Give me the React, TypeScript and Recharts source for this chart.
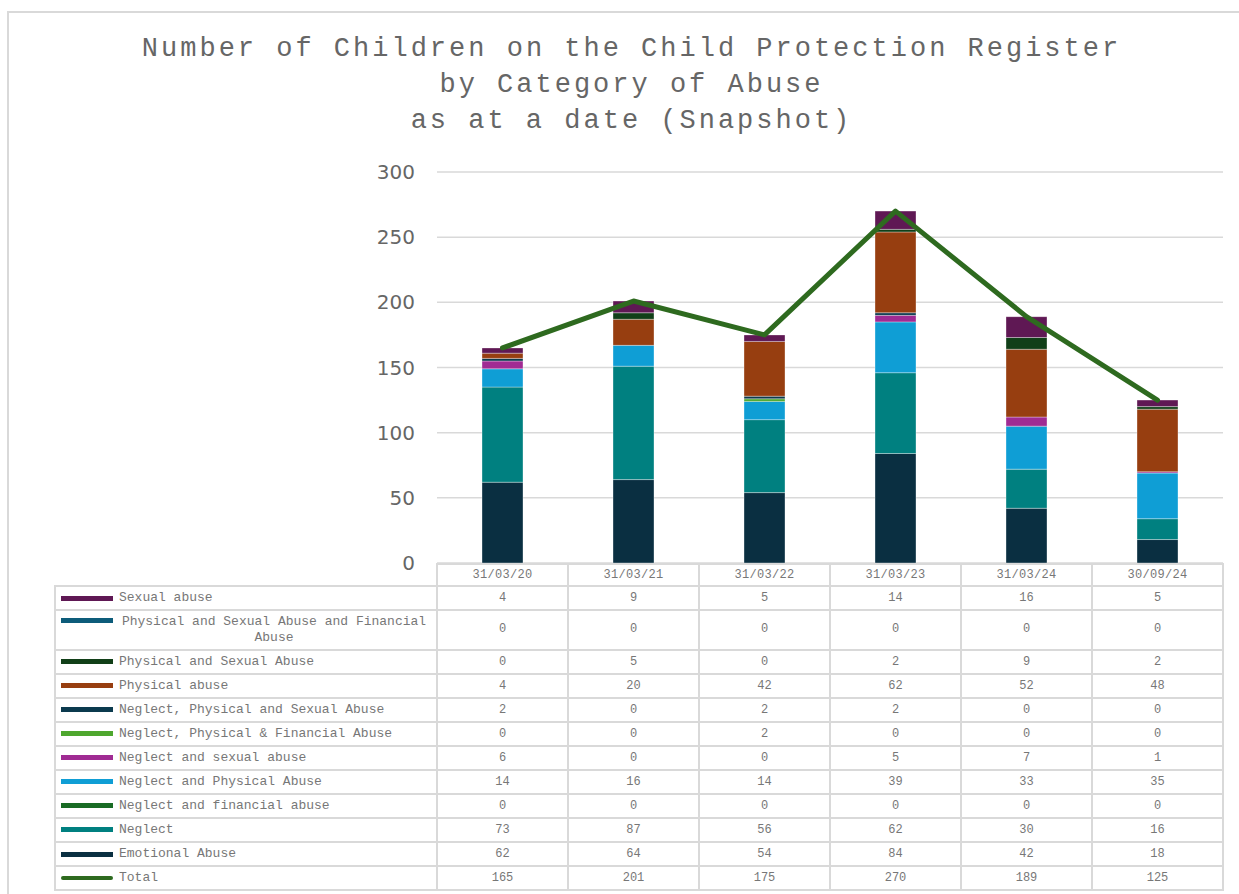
import { ComposedChart, Bar, Line, XAxis, YAxis, CartesianGrid } from "recharts";

const categories = ["31/03/20", "31/03/21", "31/03/22", "31/03/23", "31/03/24", "30/09/24"];

const sexualAbuse = [4, 9, 5, 14, 16, 5];
const physicalSexualFinancial = [0, 0, 0, 0, 0, 0];
const physicalSexual = [0, 5, 0, 2, 9, 2];
const physicalAbuse = [4, 20, 42, 62, 52, 48];
const neglectPhysicalSexual = [2, 0, 2, 2, 0, 0];
const neglectPhysicalFinancial = [0, 0, 2, 0, 0, 0];
const neglectSexual = [6, 0, 0, 5, 7, 1];
const neglectPhysical = [14, 16, 14, 39, 33, 35];
const neglectFinancial = [0, 0, 0, 0, 0, 0];
const neglect = [73, 87, 56, 62, 30, 16];
const emotionalAbuse = [62, 64, 54, 84, 42, 18];
const total = [165, 201, 175, 270, 189, 125];

const yTicks = [0, 50, 100, 150, 200, 250, 300];

// table order, top to bottom (stack is drawn in reverse)
const series = [
  { key: "sexual", name: "Sexual abuse", color: "#5F1854", values: sexualAbuse },
  { key: "psf", name: "Physical and Sexual Abuse and Financial Abuse", color: "#0D5C7A", values: physicalSexualFinancial },
  { key: "ps", name: "Physical and Sexual Abuse", color: "#113F18", values: physicalSexual },
  { key: "phys", name: "Physical abuse", color: "#973E10", values: physicalAbuse },
  { key: "nps", name: "Neglect, Physical and Sexual Abuse", color: "#0B3A4E", values: neglectPhysicalSexual },
  { key: "npf", name: "Neglect, Physical & Financial Abuse", color: "#4EA72E", values: neglectPhysicalFinancial },
  { key: "ns", name: "Neglect and sexual abuse", color: "#A02B93", values: neglectSexual },
  { key: "np", name: "Neglect and Physical Abuse", color: "#0F9ED5", values: neglectPhysical },
  { key: "nf", name: "Neglect and financial abuse", color: "#196B24", values: neglectFinancial },
  { key: "neglect", name: "Neglect", color: "#008080", values: neglect },
  { key: "emotional", name: "Emotional Abuse", color: "#0A2F41", values: emotionalAbuse },
];

const totalColor = "#2E6A1F";

const data = categories.map((c, i) => {
  const row: Record<string, string | number> = { category: c, total: total[i] };
  series.forEach((s) => (row[s.key] = s.values[i]));
  return row;
});

const W = 1239;
const H = 894;
const plotLeft = 437;
const plotRight = 1223;
const plotTop = 172;
const plotBottom = 563;
const yAxisW = 60;
const colW = (plotRight - plotLeft) / categories.length;
const labelLeft = 54;
const headerBottom = 585;
const rowHeights = [24, 39.5, 24, 24, 24, 24, 24, 24, 24, 24.5, 24, 24];
const grid = "#D9D9D9";
const textGrey = "#595959";
const tableGrey = "#777777";
const mono = "'Liberation Mono', 'DejaVu Sans Mono', monospace";

export default function App() {
  const rowTops: number[] = [];
  let acc = headerBottom;
  rowHeights.forEach((h) => {
    rowTops.push(acc);
    acc += h;
  });
  const tableBottom = acc;

  const rows = [
    ...series.map((s) => ({ name: s.name, color: s.color, values: s.values, isLine: false })),
    { name: "Total", color: totalColor, values: total, isLine: true },
  ];

  return (
    <div style={{ position: "absolute", left: 0, top: 0, width: W, height: H, background: "#fff", overflow: "hidden" }}>
      <div style={{ position: "absolute", left: 7, top: 11, width: 1.5, height: H, background: grid }} />
      <div style={{ position: "absolute", left: 7, top: 11, width: W, height: 1.5, background: grid }} />
      <div
        style={{
          position: "absolute",
          left: 12,
          width: W,
          top: 31,
          textAlign: "center",
          fontFamily: mono,
          fontSize: 27,
          letterSpacing: 3,
          lineHeight: "36px",
          color: "#666666",
        }}
      >
        Number of Children on the Child Protection Register
        <br />
        by Category of Abuse
        <br />
        as at a date (Snapshot)
      </div>

      <div style={{ position: "absolute", left: 0, top: 0 }}>
        <ComposedChart
          width={W}
          height={H}
          data={data}
          margin={{ top: plotTop, bottom: H - plotBottom, left: plotLeft - yAxisW, right: W - plotRight }}
          barCategoryGap={0}
        >
          <CartesianGrid vertical={false} stroke={grid} strokeWidth={1.5} />
          <XAxis dataKey="category" hide />
          <YAxis
            width={yAxisW}
            domain={[0, 300]}
            ticks={yTicks}
            interval={0}
            axisLine={false}
            tickLine={false}
            tickMargin={16}
            tick={{ fill: "#666666", fontSize: 20, fontFamily: "'DejaVu Sans', sans-serif" }}
          />
          {[...series].reverse().map((s) => (
            <Bar
              key={s.key}
              dataKey={s.key}
              name={s.name}
              stackId="a"
              fill={s.color}
              stroke="rgba(255,255,255,0.45)"
              strokeWidth={0.75}
              barSize={41}
              isAnimationActive={false}
            />
          ))}
          <Line
            dataKey="total"
            name="Total"
            stroke={totalColor}
            strokeWidth={5}
            strokeLinecap="round"
            strokeLinejoin="round"
            dot={false}
            activeDot={false}
            isAnimationActive={false}
          />
        </ComposedChart>
      </div>

      {/* data table grid */}
      <div style={{ position: "absolute", left: plotLeft, top: plotBottom, width: plotRight - plotLeft, height: 2, background: grid }} />
      {rowTops.map((t, i) => (
        <div key={"h" + i} style={{ position: "absolute", left: labelLeft, top: t, width: plotRight - labelLeft, height: 2, background: grid }} />
      ))}
      <div style={{ position: "absolute", left: labelLeft, top: tableBottom, width: plotRight - labelLeft, height: 2, background: grid }} />
      <div style={{ position: "absolute", left: labelLeft, top: headerBottom, width: 2, height: tableBottom - headerBottom + 2, background: grid }} />
      {categories.map((_, i) => (
        <div key={"v" + i} style={{ position: "absolute", left: plotLeft + i * colW - 1, top: plotBottom, width: 2, height: tableBottom - plotBottom + 2, background: grid }} />
      ))}
      <div style={{ position: "absolute", left: plotRight - 1, top: plotBottom, width: 2, height: tableBottom - plotBottom + 2, background: grid }} />

      {/* header */}
      {categories.map((c, i) => (
        <div
          key={"c" + i}
          style={{
            position: "absolute",
            left: plotLeft + i * colW,
            top: plotBottom + 2,
            width: colW,
            height: headerBottom - plotBottom - 2,
            lineHeight: `${headerBottom - plotBottom - 2}px`,
            textAlign: "center",
            fontFamily: mono,
            fontSize: 12,
            letterSpacing: 0.3,
            color: tableGrey,
          }}
        >
          {c}
        </div>
      ))}

      {/* rows */}
      {rows.map((r, ri) => {
        const top = rowTops[ri] + 2;
        const h = rowHeights[ri] - 2;
        const wrap = r.name.length > 40;
        return (
          <div key={"r" + ri}>
            <div
              style={{
                position: "absolute",
                left: 61,
                top: top + h / 2 - (wrap ? 9 : 0) - 2.5,
                width: 52,
                height: r.isLine ? 4 : 5,
                borderRadius: r.isLine ? 2 : 0,
                background: r.color,
              }}
            />
            <div
              style={{
                position: "absolute",
                left: wrap ? 115 : 119,
                top: top,
                width: 318,
                height: h,
                display: "flex",
                alignItems: "center",
                justifyContent: wrap ? "center" : "flex-start",
                textAlign: wrap ? "center" : "left",
                fontFamily: mono,
                fontSize: 13,
                lineHeight: "16px",
                color: tableGrey,
              }}
            >
              <span>{r.name}</span>
            </div>
            {r.values.map((v, ci) => (
              <div
                key={ci}
                style={{
                  position: "absolute",
                  left: plotLeft + ci * colW,
                  top: top,
                  width: colW,
                  height: h,
                  lineHeight: `${h}px`,
                  textAlign: "center",
                  fontFamily: mono,
                  fontSize: 12,
                  color: tableGrey,
                }}
              >
                {v}
              </div>
            ))}
          </div>
        );
      })}
    </div>
  );
}
